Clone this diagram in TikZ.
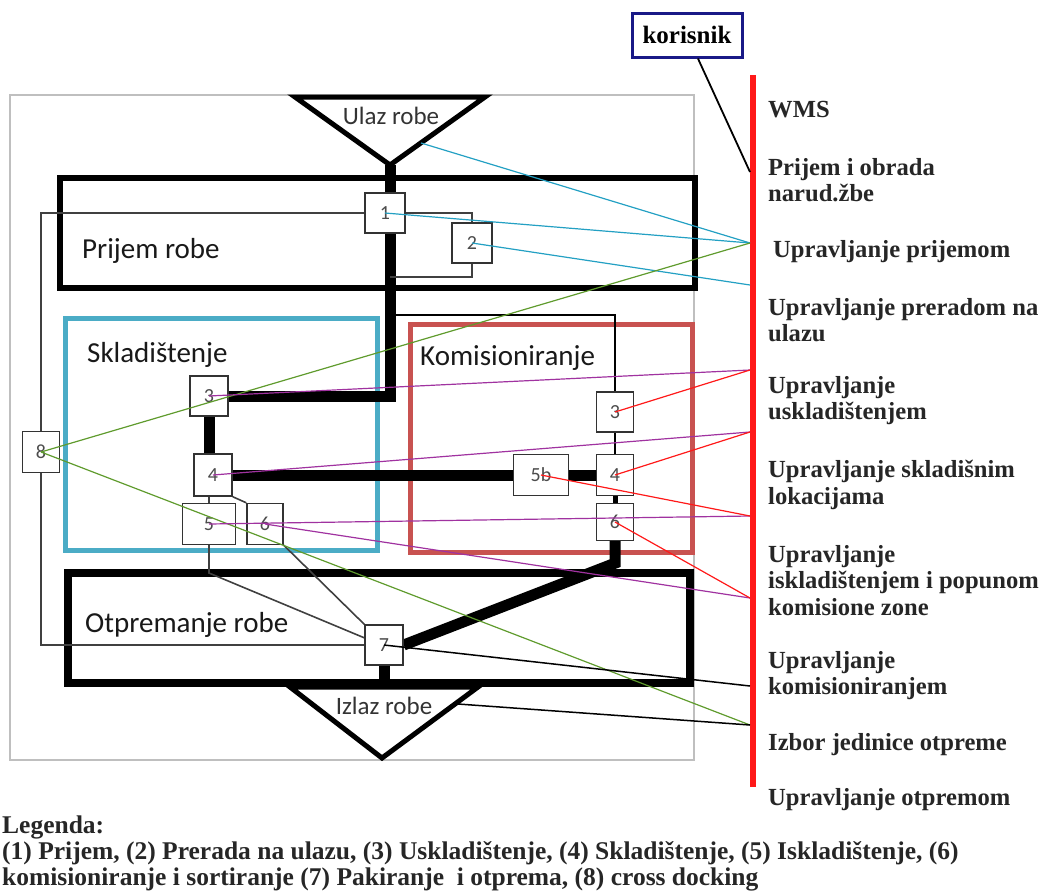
\documentclass[tikz,border=0pt]{standalone}
\usepackage{fontspec}
\setmainfont{Liberation Serif}
\newfontfamily\kalibri{Carlito}
\usetikzlibrary{positioning}

\definecolor{skladplava}{RGB}{75,172,198}
\definecolor{komcrvena}{RGB}{200,82,80}
\definecolor{tirkiz}{RGB}{35,160,195}
\definecolor{ljubicasta}{RGB}{160,50,160}
\definecolor{zelena}{RGB}{95,155,45}
\definecolor{wmscrvena}{RGB}{255,25,25}
\definecolor{tamnoplava}{RGB}{25,25,135}

\pgfdeclarelayer{zone}
\pgfdeclarelayer{tokovi}
\pgfsetlayers{zone,tokovi,main}

\begin{document}
\begin{tikzpicture}[x=1pt, y=-1pt,
		okvir/.style={draw=gray!50, line width=1.4pt},
		zona/.style={draw=black, line width=6pt},
		lijevak/.style={line width=5pt, line join=miter, black},
		tok/.style={line width=11pt, black},
		tanki/.style={line width=2.6pt, black},
		veza/.style={line width=1.6pt, black!75},
		kutija/.style={draw=black!80, fill=white, line width=1.4pt, inner sep=0pt, minimum width=38, minimum height=40, font=\kalibri\fontsize{20}{22}\selectfont, text=black!70},
		oznaka/.style={font=\kalibri\fontsize{29}{34}\selectfont, text=black!90, inner sep=0pt, anchor=base west},
		lijevaklab/.style={font=\kalibri\fontsize{25}{30}\selectfont, text=black!80, inner sep=0pt, anchor=base},
		funk/.style={font=\fontsize{24.6}{26.5}\selectfont\bfseries, text=black!85, inner sep=0pt, anchor=north west, align=left},
		legenda/.style={font=\fontsize{25.5}{26}\selectfont\bfseries, text=black!85, inner sep=0pt, anchor=north west, align=left},
		wmsbar/.style={line width=6pt, wmscrvena},
		wmsveza/.style={line width=1.2pt},
		]
	
	\useasboundingbox (0,0) rectangle (1052,892);
	
	%%═══ SKLADIŠTE — okvir i zone ══════════════════════════
	\begin{pgfonlayer}{zone}
		\draw[okvir] (10,95) rectangle (694,760);
		\draw[zona] (60,178) rectangle (695,288);                                   % prijem
		\draw[zona, draw=skladplava, line width=5pt] (65,318) rectangle (377,550);  % skladištenje
		\draw[zona, draw=komcrvena, line width=5pt] (410,324) rectangle (692,552);  % komisioniranje
		\draw[zona, line width=8pt] (68,573) rectangle (690,683);                   % otprema
		% ulaz i izlaz robe
		\draw[lijevak] (295,97) -- (485,97) -- (390,165) -- cycle;
		\draw[lijevak] (290,687) -- (478,687) -- (382,758) -- cycle;
	\end{pgfonlayer}
	
	\node[oznaka] (lprijem) at (82,258) {Prijem robe};
	\node[oznaka] (lsklad) at (87,362) {Skladištenje};
	\node[oznaka] (lkomis) at (420,365) {Komisioniranje};
	\node[oznaka] (lotprem) at (85,632) {Otpremanje robe};
	\node[lijevaklab] (lulaz) at (391,124) {Ulaz robe};
	\node[lijevaklab] (lizlaz) at (384,714) {Izlaz robe};
	
	\coordinate (ulazV) at (390,165);   % vrh ulaza
	\coordinate (ulazD) at (421,143);   % desni brid ulaza
	\coordinate (izlazD) at (458,704);  % desni brid izlaza
	\coordinate (grana) at (390,315);   % grananje prema komisioniranju
	\coordinate (povrat) at (390,277);  % povratak iz prerade
	
	%%═══ PROCESI (kutije) ══════════════════════════════════
	\node[kutija, minimum width=40] (p1) at (385,213) {1};
	\node[kutija, minimum width=40] (p2) at (472,243) {2};
	\node[kutija] (s3) at (209,396) {3};
	\node[kutija, minimum height=42] (s4) at (213,475) {4};
	\node[kutija, minimum width=53, minimum height=41] (s5) at (209,524) {5};
	\node[kutija, minimum width=36, minimum height=41] (s6) at (265,524) {6};
	\node[kutija, minimum width=37] (k3) at (615,412) {3};
	\node[kutija, minimum width=37, minimum height=41] (k4) at (615,475) {4};
	\node[kutija, minimum width=37, minimum height=37] (k6) at (615,522) {6};
	\node[kutija, minimum width=55, minimum height=41] (k5b) at (541,475) {5b};
	\node[kutija] (o7) at (384,645) {7};
	\node[kutija, minimum width=37, minimum height=41] (x8) at (41,452) {8};
	
	%%═══ TOK ROBE (ispod kutija) ═══════════════════════════
	\begin{pgfonlayer}{tokovi}
		\draw[tok] (ulazV) |- (s3.east);
		\draw[tok] (s3.south) -- (s3.south |- s4.north);
		\draw[tok] (s4.east) -- (k5b.west);
		\draw[tok] (k5b.east) -- (k4.west);
		\draw[tok, line width=5pt] (k4.south) -- (k6.north);
		\draw[tok] (k6.south) -- ++(0,22) -- (o7.east);
		\draw[tok] (o7.south) -- (o7.south |- 0,684);
		\draw[tanki] (grana) -| (k3.north);
		\draw[tanki] (k3.south) -- (k4.north);
		% tanke veze
		\draw[veza] (p1.west) -| (x8.north);
		\draw[veza] (x8.south) |- (o7.west);
		\draw[veza] (p1.east) -| (p2.north);
		\draw[veza] (p2.south) |- (povrat);
		\draw[veza] (s5.north) -- (s5.north |- s4.south);
		\draw[veza] (s4.south east) -- (s6.north west);
		\draw[veza] (s5.south) -- (s5.south |- 0,573) -- (o7.160);
		\draw[veza] (s6.south east) -- (o7.north west);
	\end{pgfonlayer}
	
	%%═══ WMS ═══════════════════════════════════════════════
	\draw[wmsbar] (753,75) -- (753,787);
	\foreach \i/\y in {0/172,1/243,2/285,3/370,4/432,5/516,6/598,8/686,9/725}
		\coordinate (w\i) at (750,\y);
	
	\node[draw=tamnoplava, line width=3pt, minimum width=110, minimum height=44, inner sep=0pt,
		font=\fontsize{25}{28}\selectfont\bfseries] (kor) at (687,35) {korisnik};
	\draw[line width=1.8pt] (kor.-65) -- (w0);
	
	\node[funk] (t0) at (768,101) {WMS};
	\node[funk] (t1) at (768,158) {Prijem i obrada\\narud.žbe};
	\node[funk] (t2) at (773,240) {Upravljanje prijemom};
	\node[funk] (t3) at (768,298) {Upravljanje preradom na\\ulazu};
	\node[funk] (t4) at (768,376) {Upravljanje\\uskladištenjem};
	\node[funk] (t5) at (768,460) {Upravljanje skladišnim\\lokacijama};
	\node[funk] (t6) at (768,545) {Upravljanje\\iskladištenjem i popunom\\komisione zone};
	\node[funk] (t7) at (768,651) {Upravljanje\\komisioniranjem};
	\node[funk] (t8) at (768,733) {Izbor jedinice otpreme};
	\node[funk] (t9) at (768,788) {Upravljanje otpremom};
	
	% veze procesa s funkcijama WMS-a
	\draw[wmsveza, tirkiz] (ulazD) -- (w1);
	\draw[wmsveza, tirkiz] (p1.center) -- (w1);
	\draw[wmsveza, tirkiz] (p2.center) -- (w2);
	\draw[wmsveza, zelena] (x8.center) -- (w1);
	\draw[wmsveza, zelena] (x8.center) -- (w9);
	\draw[wmsveza, ljubicasta] (s3.center) -- (w3);
	\draw[wmsveza, ljubicasta] (s4.center) -- (w4);
	\draw[wmsveza, ljubicasta] (s5.center) -- (w5);
	\draw[wmsveza, ljubicasta] (s6.center) -- (w6);
	\draw[wmsveza, wmscrvena] (k3.center) -- (w3);
	\draw[wmsveza, wmscrvena] (k4.center) -- (w4);
	\draw[wmsveza, wmscrvena] (k5b.center) -- (w5);
	\draw[wmsveza, wmscrvena] (k6.center) -- (w6);
	\draw[wmsveza, black, line width=1.5pt] (o7.center) -- (w8);
	\draw[wmsveza, black, line width=1.5pt] (izlazD) -- (w9);
	
	%%═══ LEGENDA ═══════════════════════════════════════════
	\node[legenda] (leg) at (2,816) {Legenda:\\(1) Prijem, (2) Prerada na ulazu, (3) Uskladištenje, (4) Skladištenje, (5) Iskladištenje, (6)\\komisioniranje i sortiranje (7) Pakiranje\ \ i otprema, (8) cross docking};
	
\end{tikzpicture}
\end{document}
